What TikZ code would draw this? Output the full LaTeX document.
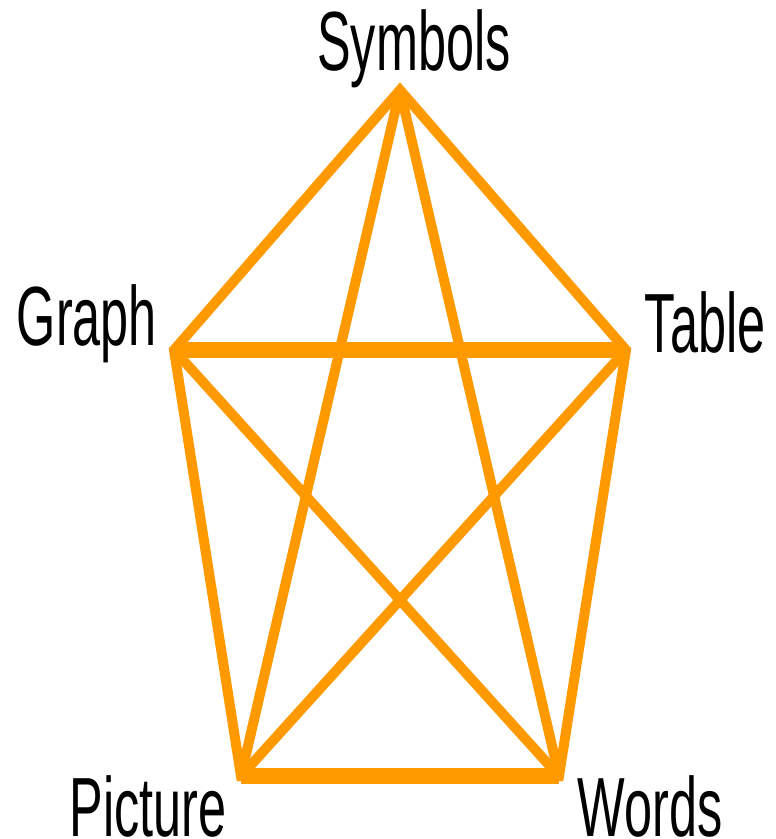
\documentclass[tikz,border=0pt]{standalone}
\usepackage{fontspec}
\setmainfont{Liberation Sans}
\usetikzlibrary{positioning}

\definecolor{edgeorange}{RGB}{255,153,0}
\newcommand{\narrowtext}[1]{\scalebox{0.6}[1]{#1}}

\begin{document}
\begin{tikzpicture}[x=1pt, y=-1pt,
  edge/.style={draw=edgeorange, line width=10pt, line join=miter},
  wideedge/.style={draw=edgeorange, line width=16pt},
  lbl/.style={anchor=base, inner sep=0pt, font=\fontsize{84}{84}\selectfont}]
  \useasboundingbox (0,0) rectangle (776,839);
  % corners of the pentagon
  \coordinate (sym) at (400,90);
  \coordinate (gra) at (174,350);
  \coordinate (tab) at (626,350);
  \coordinate (pic) at (241,776);
  \coordinate (wor) at (559,776);
  % outer ring and star
  \draw[edge] (gra) -- (sym) -- (tab) -- (wor) -- (pic) -- cycle;
  \draw[edge] (sym) -- (pic);
  \draw[edge] (sym) -- (wor);
  \draw[edge] (gra) -- (wor);
  \draw[edge] (tab) -- (pic);
  \draw[wideedge] (gra) -- (tab);
  \draw[wideedge] (pic) -- (wor);
  % labels
  \node[lbl] (symlbl) at (414,70) {\narrowtext{Symbols}};
  \node[lbl] (gralbl) at (87,345) {\narrowtext{Graph}};
  \node[lbl] (tablbl) at (705,352) {\narrowtext{Table}};
  \node[lbl] (piclbl) at (148,836) {\narrowtext{Picture}};
  \node[lbl] (worlbl) at (650,836) {\narrowtext{Words}};
\end{tikzpicture}
\end{document}
